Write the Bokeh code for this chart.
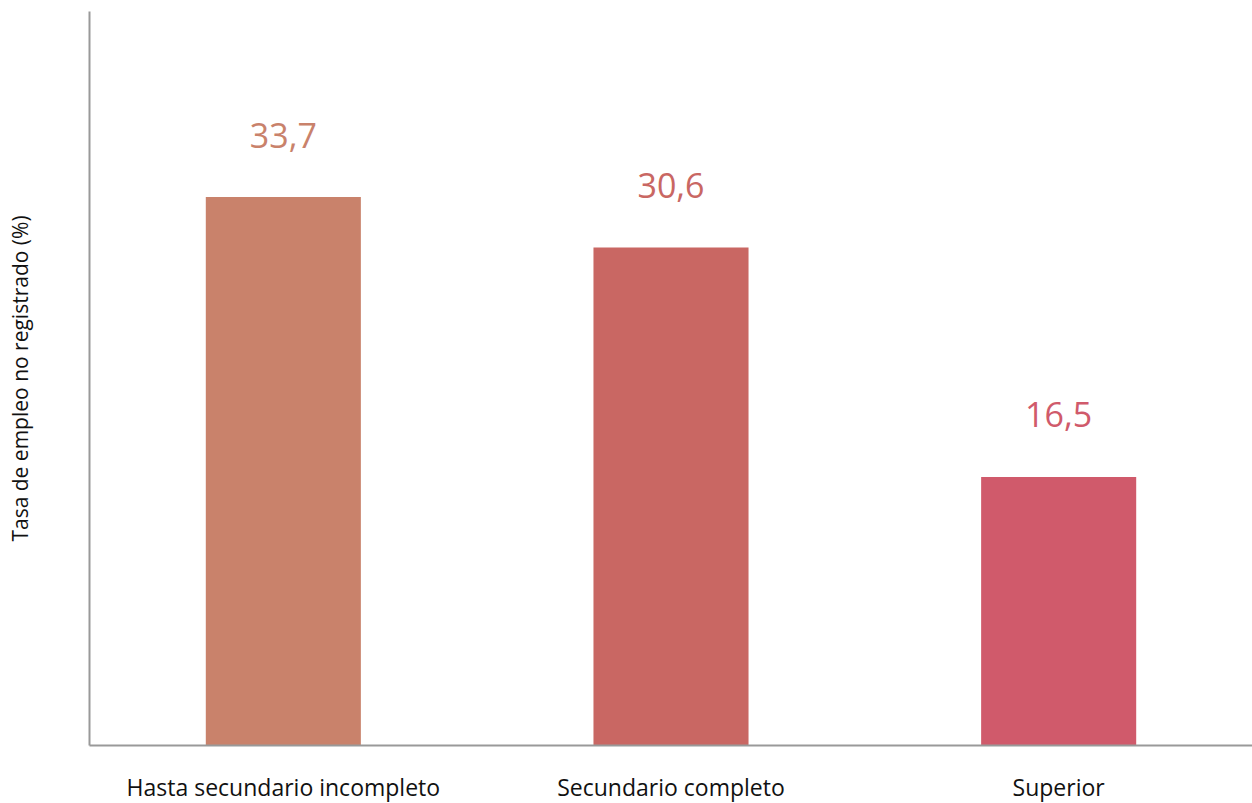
from bokeh.plotting import figure
from bokeh.models import ColumnDataSource, FactorRange, Range1d
from bokeh.core.properties import value
from bokeh.embed import file_html
from bokeh.resources import INLINE

categories = ["Hasta secundario incompleto", "Secundario completo", "Superior"]
values = [33.7, 30.6, 16.5]
labels = ["33,7", "30,6", "16,5"]
colors = ["#C9826B", "#C96763", "#D05A6B"]
y_title = "Tasa de empleo no registrado (%)"

src = ColumnDataSource(dict(cat=categories, val=values, lab=labels, col=colors))

p = figure(x_range=FactorRange(*categories, range_padding=0),
           y_range=Range1d(0, 45.1),
           frame_width=1163, frame_height=734,
           output_backend="svg", toolbar_location=None,
           min_border_left=89, min_border_right=0, min_border_top=11, min_border_bottom=58)
p.outline_line_color = None
p.background_fill_color = "white"
p.border_fill_color = "white"
p.xgrid.grid_line_color = None
p.ygrid.grid_line_color = None

p.vbar(x="cat", top="val", width=0.4, color="col", source=src, line_color=None)
p.text(x="cat", y="val", text="lab", source=src, text_color="col",
       text_align="center", text_baseline="middle", y_offset=-62,
       text_font=value("Open Sans"), text_font_size="34px")

p.xaxis.axis_line_color = "#999999"
p.xaxis.axis_line_width = 2
p.xaxis.major_tick_line_color = None
p.xaxis.minor_tick_line_color = None
p.xaxis.major_tick_out = 0
p.xaxis.major_tick_in = 0
p.xaxis.major_label_text_font = "Open Sans"
p.xaxis.major_label_text_font_size = "23px"
p.xaxis.major_label_text_color = "#111111"
p.xaxis.major_label_standoff = 25

p.yaxis.axis_line_color = "#999999"
p.yaxis.axis_line_width = 2
p.yaxis.major_tick_line_color = None
p.yaxis.minor_tick_line_color = None
p.yaxis.major_tick_out = 0
p.yaxis.major_tick_in = 0
p.yaxis.major_label_text_font_size = "0px"
p.yaxis.major_label_text_color = None
p.yaxis.axis_label = y_title
p.yaxis.axis_label_text_font = "Open Sans"
p.yaxis.axis_label_text_font_style = "normal"
p.yaxis.axis_label_text_font_size = "21px"
p.yaxis.axis_label_text_color = "#111111"
p.yaxis.axis_label_standoff = 52

open("out.html", "w").write(file_html(p, INLINE))
